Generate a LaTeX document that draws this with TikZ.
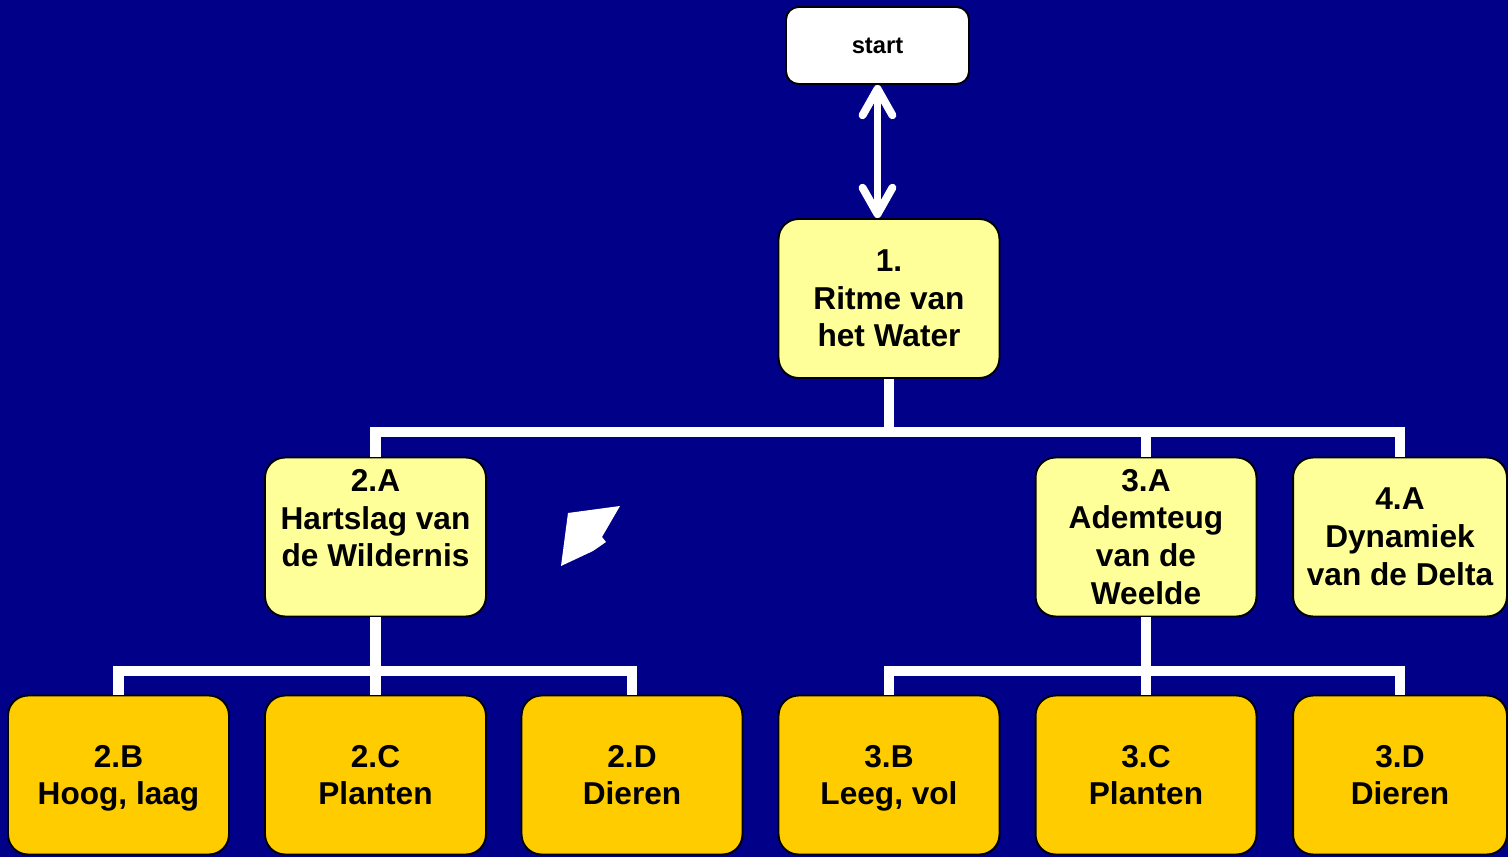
\documentclass[tikz,border=0pt]{standalone}
\usepackage{fontspec}
\setmainfont{Liberation Sans}
\usetikzlibrary{arrows.meta}
\definecolor{navy}{RGB}{0,0,136}
\definecolor{paleyellow}{RGB}{255,255,153}
\definecolor{gold}{RGB}{255,204,0}
\begin{document}
\begin{tikzpicture}
[
    x=0.02cm, y=-0.02cm,
    box/.style={draw=black, line width=1.1pt, rounded corners=0.4cm, align=center,
        font=\fontsize{18}{21.5}\selectfont\bfseries, minimum width=4.42cm, minimum height=3.18cm,
        inner sep=0pt},
    main/.style={box, fill=paleyellow},
    sub/.style={box, fill=gold, text depth=0pt},
    edge/.style={draw=white, line width=6.2pt},
    link/.style={draw=white, line width=4.5pt, {Straight Barb[length=15pt,width=17pt,round]}-{Straight Barb[length=15pt,width=17pt,round]}}
]
    \fill[navy] (0,0) rectangle (1508,857);
    \useasboundingbox (0,0) rectangle (1508,857);

    \node [box, fill=white, rounded corners=0.25cm, minimum width=3.66cm, minimum height=1.54cm,
        font=\fontsize{13.5}{16}\selectfont\bfseries] (start) at (877.5,45.5) {start};
    \node [main] (ritme) at (889,298.5) {1.\\Ritme van\\het Water};

    \node [main] (hartslag) at (375.5,537) {2.A\\Hartslag van\\de Wildernis\\~};
    \node [main] (ademteug) at (1146,537) {3.A\\Ademteug\\van de\\Weelde};
    \node [main, minimum width=4.28cm] (delta) at (1400,537) {4.A\\Dynamiek\\van de Delta};

    \node [sub] (hoog) at (118.5,775) {2.B\\Hoog, laag};
    \node [sub] (planten2) at (375.5,775) {2.C\\Planten};
    \node [sub] (dieren2) at (632,775) {2.D\\Dieren};
    \node [sub] (leeg) at (889,775) {3.B\\Leeg, vol};
    \node [sub] (planten3) at (1146,775) {3.C\\Planten};
    \node [sub, minimum width=4.28cm] (dieren3) at (1400,775) {3.D\\Dieren};

    % bus lines
    \coordinate (bus1) at (889,432);
    \coordinate (bus2) at (375.5,671);
    \coordinate (bus3) at (1146,671);
    \draw [edge] (ritme.south) -- (bus1);
    \draw [edge] (hartslag.north) |- (bus1) -| (delta.north);
    \draw [edge] (ademteug.north) -- (ademteug.north |- bus1);

    \draw [edge] (hartslag.south) -- (bus2);
    \draw [edge] (hoog.north) |- (bus2) -| (dieren2.north);
    \draw [edge] (planten2.north) -- (bus2);

    \draw [edge] (ademteug.south) -- (bus3);
    \draw [edge] (leeg.north) |- (bus3) -| (dieren3.north);
    \draw [edge] (planten3.north) -- (bus3);

    \draw [link] (start.south) -- (start.south |- ritme.north);

    \fill [white] (568,513) -- (620,506) -- (602,537) -- (606,542) -- (593,551) -- (561,566) -- cycle;
\end{tikzpicture}
\end{document}
